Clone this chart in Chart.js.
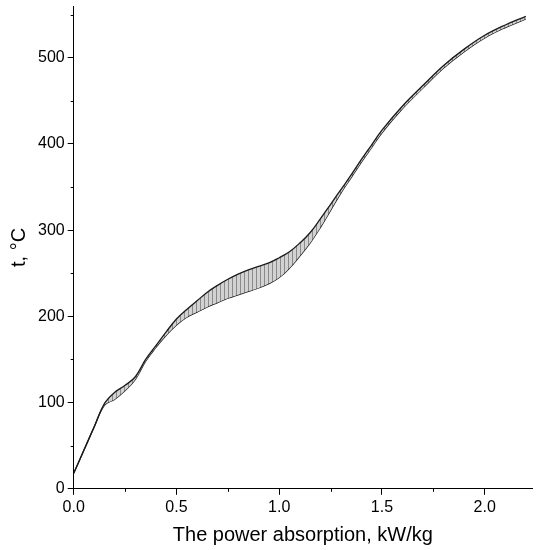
<!DOCTYPE html>
<html>
<head>
<meta charset="utf-8">
<script src="https://cdn.jsdelivr.net/npm/chart.js@4.4.1/dist/chart.umd.min.js"></script>
<style>
  html, body { margin: 0; padding: 0; background: #fff; }
  #wrap { width: 536px; height: 550px; position: relative; }
</style>
</head>
<body>
<div id="wrap"><canvas id="myChart"></canvas></div>
<script>
// power absorption, kW/kg
const power = [0, 0.05, 0.1, 0.15, 0.2, 0.25, 0.3, 0.35, 0.4, 0.45, 0.5, 0.55, 0.6, 0.65, 0.7,
  0.75, 0.8, 0.85, 0.9, 0.95, 1.0, 1.05, 1.1, 1.15, 1.2, 1.25, 1.3, 1.35, 1.4, 1.45, 1.5,
  1.6, 1.7, 1.8, 1.9, 2.0, 2.1, 2.2];
// upper / lower boundary of temperature band, °C
const tUpper = [18, 45, 72, 99, 112, 120, 130, 150, 166, 182, 197, 208, 218, 228, 236,
  243, 249, 254, 258, 262, 268, 275, 285, 297, 313, 330, 347, 364, 382, 399, 416,
  444, 468, 491, 510, 526, 538, 548];
const tLower = [18, 45, 72, 97, 104, 114, 127, 148, 164, 178, 190, 199, 205, 211, 216,
  221, 225, 229, 233, 238, 245, 256, 270, 285, 303, 323, 343, 361, 379, 396, 413,
  441, 465, 488, 507, 523, 535, 545];

const xTicks = [0, 0.5, 1.0, 1.5, 2.0];
const xMinor = [0.25, 0.75, 1.25, 1.75];
const yTicks = [0, 100, 200, 300, 400, 500];
const yMinor = [50, 150, 250, 350, 450, 550];

// 해칭 패턴 (회색 바탕 + 세로줄)
function makeHatch() {
  const c = document.createElement('canvas');
  c.width = 4; c.height = 4;
  const g = c.getContext('2d');
  g.fillStyle = '#d2d2d2';
  g.fillRect(0, 0, 4, 4);
  g.fillStyle = '#8a8a8a';
  g.fillRect(0, 0, 1, 4);
  return g.createPattern(c, 'repeat');
}

function toPoints(ys) {
  return power.map((x, i) => ({ x: x, y: ys[i] }));
}

// 보조 눈금
const minorTicks = {
  id: 'minorTicks',
  afterDraw(chart) {
    const ctx = chart.ctx;
    const xs = chart.scales.x, ys = chart.scales.y;
    ctx.save();
    ctx.strokeStyle = '#000';
    ctx.lineWidth = 1;
    ctx.beginPath();
    xMinor.forEach(v => {
      const px = Math.round(xs.getPixelForValue(v)) + 0.5;
      ctx.moveTo(px, xs.top);
      ctx.lineTo(px, xs.top + 3);
    });
    yMinor.forEach(v => {
      const py = Math.round(ys.getPixelForValue(v)) + 0.5;
      ctx.moveTo(ys.right, py);
      ctx.lineTo(ys.right - 3, py);
    });
    ctx.stroke();
    ctx.restore();
  }
};

const font = 'Liberation Sans, Arial, sans-serif';

var ctx = document.getElementById('myChart').getContext('2d');
var newChart = new Chart(ctx, {
  type: 'line',
  data: {
    datasets: [
      {
        label: 'upper',
        data: toPoints(tUpper),
        borderColor: '#1a1a1a',
        borderWidth: 1.3,
        pointRadius: 0,
        tension: 0.4,
        fill: '+1',
        backgroundColor: makeHatch()
      },
      {
        label: 'lower',
        data: toPoints(tLower),
        borderColor: '#1a1a1a',
        borderWidth: 1.3,
        pointRadius: 0,
        tension: 0.4,
        fill: false
      }
    ]
  },
  options: {
    responsive: true,
    maintainAspectRatio: false,
    animation: false,
    layout: { padding: { left: 3, right: 4, top: 6, bottom: 3 } },
    plugins: {
      legend: { display: false },
      tooltip: { enabled: false }
    },
    scales: {
      x: {
        type: 'linear',
        min: 0,
        max: 2.23,
        afterBuildTicks: s => { s.ticks = xTicks.map(v => ({ value: v })); },
        border: { color: '#000', width: 1 },
        grid: { display: true, drawOnChartArea: false, tickLength: 6, color: '#000' },
        ticks: {
          color: '#000',
          padding: 3,
          font: { family: font, size: 16 },
          callback: v => v.toFixed(1)
        },
        title: {
          display: true,
          text: 'The power absorption, kW/kg',
          color: '#000',
          font: { family: font, size: 20 },
          padding: { top: 3, bottom: 0 }
        }
      },
      y: {
        type: 'linear',
        min: 0,
        max: 560,
        afterBuildTicks: s => { s.ticks = yTicks.map(v => ({ value: v })); },
        afterFit: s => { s.paddingTop = 0; },
        border: { color: '#000', width: 1 },
        grid: { display: true, drawOnChartArea: false, tickLength: 6, color: '#000' },
        ticks: {
          color: '#000',
          padding: 3,
          font: { family: font, size: 16 }
        },
        title: {
          display: true,
          text: 't, °C',
          color: '#000',
          font: { family: font, size: 20 },
          padding: { top: 4, bottom: 4 }
        }
      }
    }
  },
  plugins: [minorTicks]
});
</script>
</body>
</html>
